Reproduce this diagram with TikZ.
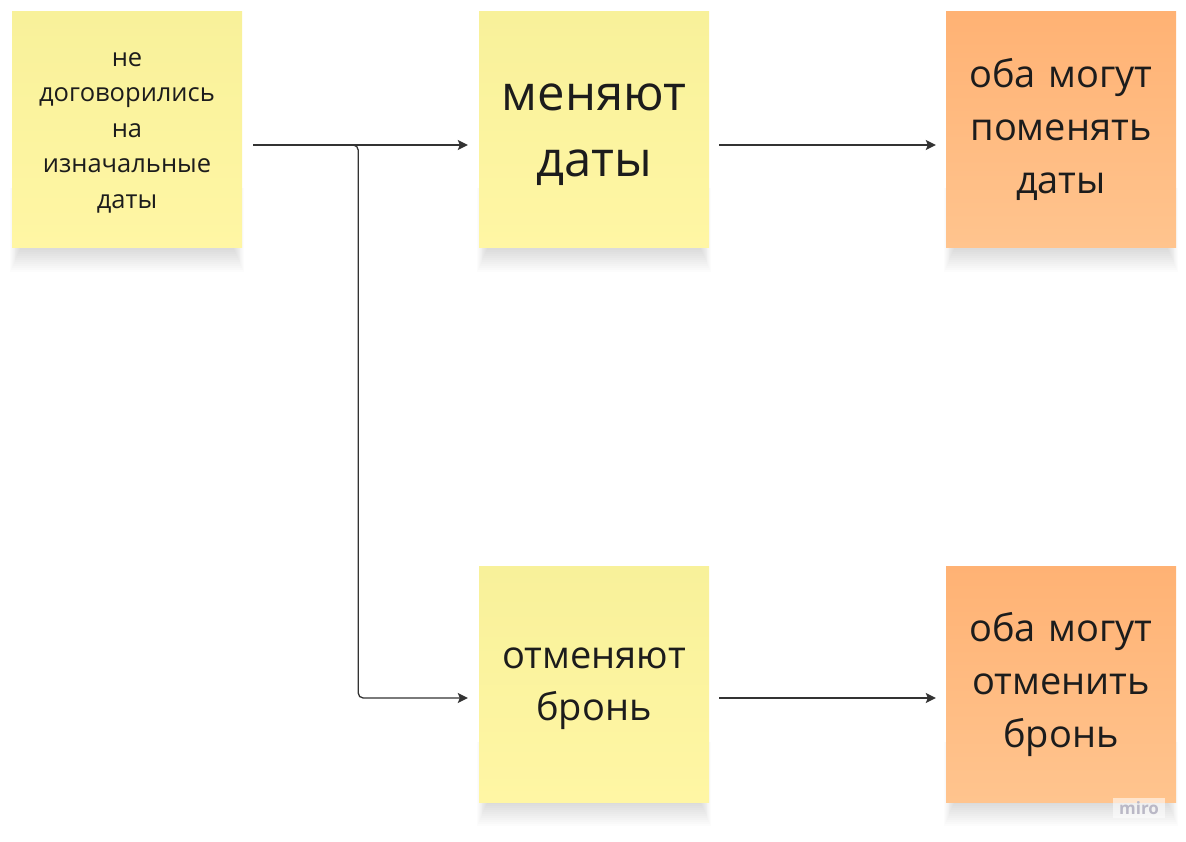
\documentclass[tikz,border=0pt]{standalone}
\usepackage{fontspec}
\setmainfont{Open Sans}
\usetikzlibrary{positioning,arrows.meta}

\definecolor{ink}{HTML}{1C1C1C}
\definecolor{wire}{HTML}{333333}
\definecolor{yeltop}{HTML}{F8F19A}
\definecolor{yelbot}{HTML}{FFF6A4}
\definecolor{orgtop}{HTML}{FFB274}
\definecolor{orgbot}{HTML}{FFC48E}
\definecolor{logogray}{HTML}{BAB8C6}

\pgfdeclarelayer{background}
\pgfsetlayers{background,main}

\tikzset{
  sticky/.style={rectangle, minimum width=230pt, minimum height=236pt, inner sep=0pt,
    text width=215pt, align=center, text=ink,
    execute at begin node=\strut, execute at end node=\strut},
  yelnote/.style={sticky, top color=yeltop, bottom color=yelbot},
  orgnote/.style={sticky, top color=orgtop, bottom color=orgbot},
  flow/.style={draw=wire, line width=1.3pt, -{Stealth[length=10pt,width=10pt,inset=2pt]}}
}

\begin{document}
\begin{tikzpicture}[node distance=467pt]
\useasboundingbox (0pt,0pt) rectangle (1186pt,-842pt);

\node[yelnote, font=\fontsize{25.5}{35.5}\selectfont] (start) at (127pt,-130pt)
  {не\\договорились\\на\\изначальные\\даты};
\node[yelnote, font=\fontsize{49}{66}\selectfont, right of=start] (change) {меняют\\даты};
\node[orgnote, font=\fontsize{38}{53}\selectfont, right of=change] (bothchange) {оба могут\\поменять\\даты};
\node[yelnote, font=\fontsize{38}{52}\selectfont, below of=change, node distance=554pt] (cancel) {отменяют\\бронь};
\node[orgnote, font=\fontsize{38}{53}\selectfont, right of=cancel] (bothcancel) {оба могут\\отменить\\бронь};

% white page and soft shadows under the notes
\begin{pgfonlayer}{background}
\fill[white] (0pt,0pt) rectangle (1186pt,-842pt);
\foreach \n in {start,change,bothchange,cancel,bothcancel}
  \foreach \k in {1,...,12}
    \fill[black, opacity=0.011]
      ([shift={(9pt-0.9*\k pt,60pt)}]\n.south west) rectangle
      ([shift={(-9pt+0.9*\k pt,-2*\k pt)}]\n.south east);
\end{pgfonlayer}

\draw[flow] ([shift={(11pt,-15pt)}]start.east) -- ([shift={(-11pt,-15pt)}]change.west);
\draw[flow, rounded corners=5pt] ([shift={(11pt,-15pt)}]start.east) -- ++(105pt,0pt)
  |- ([shift={(-11pt,-14pt)}]cancel.west);
\draw[flow] ([shift={(10pt,-15pt)}]change.east) -- ([shift={(-10pt,-15pt)}]bothchange.west);
\draw[flow] ([shift={(10pt,-14pt)}]cancel.east) -- ([shift={(-10pt,-14pt)}]bothcancel.west);

\node[fill=white, fill opacity=0.55, text opacity=1, text=logogray, inner xsep=6pt, inner ysep=3pt,
  font=\bfseries\fontsize{17}{17}\selectfont] (logo) at (1139pt,-808pt) {miro};
\end{tikzpicture}
\end{document}
